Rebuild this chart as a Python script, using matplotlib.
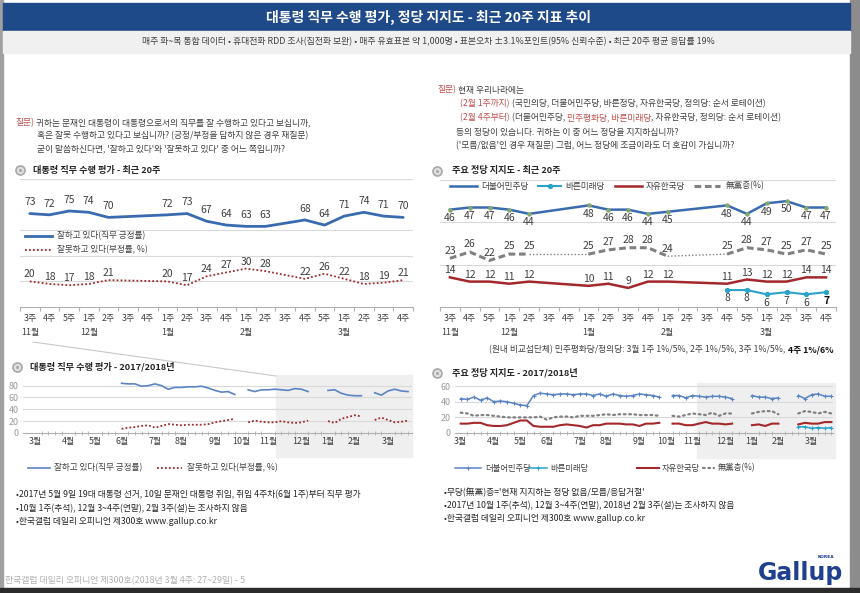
import matplotlib.pyplot as plt
import numpy as np
from matplotlib.patches import Rectangle

plt.rcParams['font.family'] = ['Noto Sans CJK KR', 'DejaVu Sans']
plt.rcParams['axes.unicode_minus'] = False

nan = np.nan

# ---- 최근 20주 (2017년 11월 3주 ~ 2018년 3월 4주)
weeks_20 = ['3주', '4주', '5주', '1주', '2주', '3주', '4주', '1주', '2주', '3주',
            '4주', '1주', '2주', '3주', '4주', '5주', '1주', '2주', '3주', '4주']
month_pos_20 = [0, 3, 7, 11, 16]
month_names_20 = ['11월', '12월', '1월', '2월', '3월']

approve_20 = [73, 72, 75, 74, 70, nan, nan, 72, 73, 67, 64, 63, 63, nan, 68, 64, 71, 74, 71, 70]
disapprove_20 = [20, 18, 17, 18, 21, nan, nan, 20, 17, 24, 27, 30, 28, nan, 22, 26, 22, 18, 19, 21]

minju_20 = [46, 47, 47, 46, 44, nan, nan, 48, 46, 46, 44, 45, nan, nan, 48, 44, 49, 50, 47, 47]
noparty_20 = [23, 26, 22, 25, 25, nan, nan, 25, 27, 28, 28, 24, nan, nan, 25, 28, 27, 25, 27, 25]
jayu_20 = [14, 12, 12, 11, 12, nan, nan, 10, 11, 9, 12, 12, nan, nan, 11, 13, 12, 12, 14, 14]
bareun_20 = [nan] * 14 + [8, 8, 6, 7, 6, 7]

# ---- 2017/2018년 주간 (2017년 3월 1주 = 0 ... 2018년 3월 4주 = 56), 앞 37주 + 최근 20주
month_names_long = ['3월', '4월', '5월', '6월', '7월', '8월', '9월', '10월', '11월', '12월', '1월', '2월', '3월']
month_start_long = [0, 5, 9, 13, 18, 22, 27, 31, 35, 40, 44, 48, 53]

approve_early = [nan] * 13 + [84, 83, 83, 79, 80, 83, 80, 74, 77, 77, 78, 78, 79, 76, 72, 69, 70, 65] \
    + [nan] + [73, 70, 73, 73, 74]
disapprove_early = [nan] * 13 + [7, 9, 10, 12, 13, 9, 12, 15, 14, 13, 14, 14, 14, 15, 18, 20, 22, 24] \
    + [nan] + [18, 21, 19, 18, 18]

minju_early = [44, 43, 46, 42, 45, 40, 41, 40, 38, 36, 35, 48, 51, 50, 49, 50, 50, 49, 50, 50,
               48, 50, 47, 50, 48, 47, 48, 50, 49, 48, 46] + [nan] + [48, 48, 45, 48, 47]
noparty_early = [26, 25, 22, 23, 23, 22, 21, 20, 20, 20, 20, 20, 21, 17, 20, 21, 21, 20, 22, 22,
                 22, 23, 24, 23, 24, 24, 24, 23, 23, 23, 22] + [nan] + [22, 21, 23, 25, 24]
jayu_early = [12, 12, 13, 13, 10, 9, 9, 10, 13, 16, 16, 9, 8, 8, 8, 10, 11, 10, 9, 7,
              10, 10, 12, 12, 12, 11, 11, 9, 12, 12, 13] + [nan] + [12, 12, 10, 10, 12]
bareun_early = [nan] * 37

approve_long = approve_early + approve_20
disapprove_long = disapprove_early + disapprove_20
minju_long = minju_early + minju_20
noparty_long = noparty_early + noparty_20
jayu_long = jayu_early + jayu_20
bareun_long = bareun_early + bareun_20

# ---- colours
BLUE = '#3a6bb0'
RED = '#a3282b'
CYAN = '#2aa3c9'
GRAY = '#808080'
TXT = '#404040'
QRED = '#c0504d'
GRID = '#d9d9d9'

W, H = 860, 593
fig = plt.figure(figsize=(W / 100, H / 100), dpi=100)
bg = fig.add_axes([0, 0, 1, 1], zorder=0)
bg.set_xlim(0, W)
bg.set_ylim(H, 0)
bg.axis('off')


def px_axes(box):
    x0, y0, x1, y1 = box
    ax = fig.add_axes([x0 / W, 1 - y1 / H, (x1 - x0) / W, (y1 - y0) / H], zorder=2)
    ax.set_facecolor('none')
    for s in ['top', 'right', 'left']:
        ax.spines[s].set_visible(False)
    ax.spines['bottom'].set_color('#b0b0b0')
    ax.spines['bottom'].set_linewidth(0.8)
    return ax


def rich(x, y, parts, size=6.3):
    # parts: (text, colour, weight) drawn one after another
    r = fig.canvas.get_renderer()
    for s, c, w in parts:
        t = bg.text(x, y, s, color=c, fontsize=size, fontweight=w, va='center', ha='left')
        x += t.get_window_extent(renderer=r).width


def rich_right(x, y, parts, size=6.3):
    r = fig.canvas.get_renderer()
    for s, c, w in reversed(parts):
        t = bg.text(x, y, s, color=c, fontsize=size, fontweight=w, va='center', ha='right')
        x -= t.get_window_extent(renderer=r).width


def bullet(x, y):
    bg.plot(x, y, 'o', ms=6.5, mfc='#e0e0e0', mec='#a8a8a8', mew=1.2)
    bg.plot(x, y, 'o', ms=2.2, mfc='#a8a8a8', mec='none')


# ---- frame, header
bg.add_patch(Rectangle((0, 0), 3, H, color='#a0a0a0'))
bg.add_patch(Rectangle((850, 0), 10, H, color='#8c8c8c'))
bg.add_patch(Rectangle((0, 588), W, 5, color='#2b2b2b'))
bg.add_patch(Rectangle((3, 3), 847, 28, color='#1f4a8a'))
bg.add_patch(Rectangle((3, 31), 847, 22, color='#f0f0f0'))
bg.text(428, 17, '대통령 직무 수행 평가, 정당 지지도 - 최근 20주 지표 추이', color='white',
        fontsize=10, fontweight='bold', ha='center', va='center')
bg.text(428, 42, '매주 화~목 통합 데이터 • 휴대전화 RDD 조사(집전화 보완) • 매주 유효표본 약 1,000명 • '
        '표본오차 ±3.1%포인트(95% 신뢰수준) • 최근 20주 평균 응답률 19%',
        color=TXT, fontsize=6.4, ha='center', va='center')

# ---- questions
rich(15, 123, [('질문)', QRED, 'normal'),
               (' 귀하는 문재인 대통령이 대통령으로서의 직무를 잘 수행하고 있다고 보십니까,', TXT, 'normal')])
rich(37, 136, [('혹은 잘못 수행하고 있다고 보십니까? (긍정/부정을 답하지 않은 경우 재질문)', TXT, 'normal')])
rich(37, 149, [("굳이 말씀하신다면, '잘하고 있다'와 '잘못하고 있다' 중 어느 쪽입니까?", TXT, 'normal')])

rich(437, 90, [('질문)', QRED, 'normal'), (' 현재 우리나라에는', TXT, 'normal')])
rich(460, 104, [('(2월 1주까지)', QRED, 'normal'),
                (' (국민의당, 더불어민주당, 바른정당, 자유한국당, 정의당: 순서 로테이션)', TXT, 'normal')])
rich(460, 118, [('(2월 4주부터)', QRED, 'normal'), (' (더불어민주당, ', TXT, 'normal'),
                ('민주평화당, 바른미래당', QRED, 'normal'),
                (', 자유한국당, 정의당: 순서 로테이션)', TXT, 'normal')])
rich(456, 132, [('등의 정당이 있습니다. 귀하는 이 중 어느 정당을 지지하십니까?', TXT, 'normal')])
rich(456, 146, [("('모름/없음'인 경우 재질문) 그럼, 어느 정당에 조금이라도 더 호감이 가십니까?", TXT, 'normal')])

# ---- section titles
for (bx, by, tx, s) in [(20, 170, 33, '대통령 직무 수행 평가 - 최근 20주'),
                        (437, 171, 452, '주요 정당 지지도 - 최근 20주'),
                        (17, 367, 30, '대통령 직무 수행 평가 - 2017/2018년'),
                        (437, 373, 452, '주요 정당 지지도 - 2017/2018년')]:
    bullet(bx, by)
    bg.text(tx, by, s, fontsize=6.6, fontweight='bold', color='#262626', va='center')


def top_axis(ax, box, ymax):
    n = len(weeks_20)
    ax.set_xlim(-0.5, n - 0.5)
    ax.set_ylim(0, ymax)
    ax.set_yticks([])
    ax.set_xticks(np.arange(-0.5, n, 1))
    ax.set_xticklabels([])
    ax.tick_params(axis='x', length=3, color='#b0b0b0', width=0.8)
    hgt = box[3] - box[1]
    for i, wk in enumerate(weeks_20):
        ax.text(i, -12 / hgt, wk, transform=ax.get_xaxis_transform(), ha='center', va='center',
                fontsize=6.4, color=TXT)
    for p, m in zip(month_pos_20, month_names_20):
        ax.text(p, -26 / hgt, m, transform=ax.get_xaxis_transform(), ha='center', va='center',
                fontsize=6.4, color=TXT)


def labels(ax, vals, dy, color=TXT, bold_last=False):
    for i, v in enumerate(vals):
        if np.isnan(v):
            continue
        w = 'bold' if (bold_last and i == len(vals) - 1) else 'normal'
        c = '#111111' if w == 'bold' else color
        ax.annotate(f'{v:.0f}', (i, v), xytext=(0, dy), textcoords='offset points',
                    ha='center', va='center', fontsize=7.5, color=c, fontweight=w)


def bridged(ax, vals, **kw):
    x = np.arange(len(vals))
    y = np.asarray(vals, float)
    m = ~np.isnan(y)
    ax.plot(x[m], y[m], **kw)


# ---- top-left: 직무 평가 최근 20주
box_tl = (20, 179, 413, 307)
ax1 = px_axes(box_tl)
top_axis(ax1, box_tl, 100)
for g in [20, 40, 60, 100]:
    ax1.axhline(g, color=GRID, lw=0.8, zorder=0)
bridged(ax1, approve_20, color=BLUE, lw=2.0, solid_capstyle='round')
bridged(ax1, disapprove_20, color=RED, lw=1.3, linestyle=(0, (1, 1.2)))
labels(ax1, approve_20, 8)
labels(ax1, disapprove_20, 5)

bg.plot([25, 52], [236, 236], color=BLUE, lw=2.0)
bg.text(57, 236, '잘하고 있다(직무 긍정률)', fontsize=6.2, color=TXT, va='center')
bg.plot([25, 52], [250, 250], color=RED, lw=1.3, linestyle=(0, (1, 1.2)))
bg.text(57, 250, '잘못하고 있다(부정률, %)', fontsize=6.2, color=TXT, va='center')

# ---- top-right: 정당 지지도 최근 20주
box_tr = (440, 180, 836, 307)
ax2 = px_axes(box_tr)
top_axis(ax2, box_tr, 60)
for g in [20, 40, 60]:
    ax2.axhline(g, color=GRID, lw=0.8, zorder=0)
bridged(ax2, minju_20, color=BLUE, lw=1.8, marker='o', ms=2.2, mfc='#86a86e', mec='#86a86e')
bridged(ax2, jayu_20, color=RED, lw=1.8)
ax2.plot(np.arange(20), bareun_20, color=CYAN, lw=1.5, marker='o', ms=2.8, mfc=CYAN, mec=CYAN)
ax2.plot(np.arange(20), noparty_20, color=GRAY, lw=2.2, linestyle=(0, (2.2, 1.2)))
valid = [i for i, v in enumerate(noparty_20) if not np.isnan(v)]
for a, b in zip(valid[:-1], valid[1:]):
    if b - a > 1:
        ax2.plot([a, b], [noparty_20[a], noparty_20[b]], color=GRAY, lw=1.0, linestyle=(0, (1, 1.5)))
labels(ax2, minju_20, -6)
labels(ax2, noparty_20, 5.5)
labels(ax2, jayu_20, 5)
labels(ax2, bareun_20, -6, bold_last=True)

ly = 186
bg.plot([450, 477], [ly, ly], color=BLUE, lw=1.8)
bg.text(481, ly, '더불어민주당', fontsize=6.2, color=TXT, va='center')
bg.plot([538, 561], [ly, ly], color=CYAN, lw=1.5)
bg.plot([549.5], [ly], 'o', ms=2.8, color=CYAN)
bg.text(565, ly, '바른미래당', fontsize=6.2, color=TXT, va='center')
bg.plot([615, 642], [ly, ly], color=RED, lw=1.8)
bg.text(646, ly, '자유한국당', fontsize=6.2, color=TXT, va='center')
bg.plot([694, 720], [ly, ly], color=GRAY, lw=2.2, linestyle=(0, (2.2, 1.2)))
bg.text(726, ly, '無黨층(%)', fontsize=6.2, color=TXT, va='center')

rich_right(833, 350, [('(원내 비교섭단체) 민주평화당/정의당: 3월 1주 1%/5%, 2주 1%/5%, 3주 1%/5%, ', TXT, 'normal'),
                      ('4주 1%/6%', '#111111', 'bold')], size=6.3)

# ---- zoom connector and shaded recent-20-week boxes
bg.plot([33, 276], [342, 376], color='#c8c8c8', lw=0.8)
bg.add_patch(Rectangle((276, 375), 136, 82, color='#efefef', zorder=0))
bg.add_patch(Rectangle((697, 383), 138, 75, color='#efefef', zorder=0))


def long_axis(ax, box, xlim, ylim, yt):
    ax.set_xlim(*xlim)
    ax.set_ylim(*ylim)
    ax.set_yticks(yt)
    ax.set_yticklabels([str(v) for v in yt])
    ax.tick_params(axis='y', length=0, labelsize=6.4, labelcolor='#999999', pad=3)
    for g in yt[1:]:
        ax.axhline(g, color=GRID, lw=0.8, zorder=0)
    ax.set_xticks(month_start_long)
    ax.set_xticklabels(month_names_long)
    ax.set_xticks(np.arange(0, 57), minor=True)
    ax.tick_params(axis='x', which='major', length=0, labelsize=6.4, labelcolor=TXT, pad=3)
    ax.tick_params(axis='x', which='minor', length=2.5, direction='inout', color='#b0b0b0', width=0.6)


weeks_long = np.arange(len(approve_long))

# ---- bottom-left: 직무 평가 2017/2018
box_bl = (23, 375, 412, 433)
ax3 = px_axes(box_bl)
long_axis(ax3, box_bl, (-1.8, 56.6), (0, 98), [0, 20, 40, 60, 80])
ax3.plot(weeks_long, approve_long, color='#5b84c4', lw=1.2)
ax3.plot(weeks_long, disapprove_long, color=RED, lw=1.3, linestyle=(0, (1, 1.2)))

bg.plot([28, 50], [468, 468], color='#5b84c4', lw=1.2)
bg.text(54, 468, '잘하고 있다(직무 긍정률)', fontsize=6.2, color=TXT, va='center')
bg.plot([157, 182], [468, 468], color=RED, lw=1.3, linestyle=(0, (1, 1.2)))
bg.text(187, 468, '잘못하고 있다(부정률, %)', fontsize=6.2, color=TXT, va='center')

# ---- bottom-right: 정당 지지도 2017/2018
box_br = (455, 383, 833, 433)
ax4 = px_axes(box_br)
long_axis(ax4, box_br, (-0.86, 56.24), (0, 64), [0, 20, 40, 60])
ax4.plot(weeks_long, minju_long, color='#5b84c4', lw=1.1, marker='+', ms=3, mew=0.8)
ax4.plot(weeks_long, bareun_long, color=CYAN, lw=1.1, marker='+', ms=3, mew=0.8)
ax4.plot(weeks_long, jayu_long, color=RED, lw=1.5)
ax4.plot(weeks_long, noparty_long, color=GRAY, lw=1.6, linestyle=(0, (0.8, 1.6)), dash_capstyle='round')

ly = 468
bg.plot([455, 481], [ly, ly], color='#5b84c4', lw=1.1)
bg.plot([468], [ly], '+', ms=3, mew=0.8, color='#5b84c4')
bg.text(485, ly, '더불어민주당', fontsize=6.0, color=TXT, va='center')
bg.plot([528, 547], [ly, ly], color=CYAN, lw=1.1)
bg.plot([537.5], [ly], '+', ms=3, mew=0.8, color=CYAN)
bg.text(550, ly, '바른미래당', fontsize=6.0, color=TXT, va='center')
bg.plot([637, 659], [ly, ly], color=RED, lw=1.5)
bg.text(662, ly, '자유한국당', fontsize=6.0, color=TXT, va='center')
bg.plot([703, 714], [ly, ly], color=GRAY, lw=1.6, linestyle=(0, (0.8, 1.6)), dash_capstyle='round')
bg.text(718, ly, '無黨층(%)', fontsize=6.0, color=TXT, va='center')

# ---- footnotes
notes_left = ['•2017년 5월 9일 19대 대통령 선거, 10일 문재인 대통령 취임, 취임 4주차(6월 1주)부터 직무 평가',
              '•10월 1주(추석), 12월 3~4주(연말), 2월 3주(설)는 조사하지 않음',
              '•한국갤럽 데일리 오피니언 제300호 www.gallup.co.kr']
for k, s in enumerate(notes_left):
    bg.text(16, 495 + 13.3 * k, s, fontsize=6.3, color='#262626', va='center')
notes_right = ["•무당(無黨)층='현재 지지하는 정당 없음/모름/응답거절'",
               '•2017년 10월 1주(추석), 12월 3~4주(연말), 2018년 2월 3주(설)는 조사하지 않음',
               '•한국갤럽 데일리 오피니언 제300호 www.gallup.co.kr']
for k, s in enumerate(notes_right):
    bg.text(444, 492 + 13.3 * k, s, fontsize=6.3, color='#262626', va='center')

bg.text(5, 581, '한국갤럽 데일리 오피니언 제300호(2018년 3월 4주: 27~29일) - 5', fontsize=6.4,
        color='#b0b0b0', va='center')
bg.text(801, 573, 'Gallup', fontsize=17, fontweight='heavy', color='#1f3f8f', family='DejaVu Sans',
        ha='center', va='center')
bg.text(826, 557, 'KOREA', fontsize=3.2, fontweight='bold', color='#1f3f8f', family='DejaVu Sans',
        ha='center', va='center')

fig.savefig('out.png', dpi=100)
